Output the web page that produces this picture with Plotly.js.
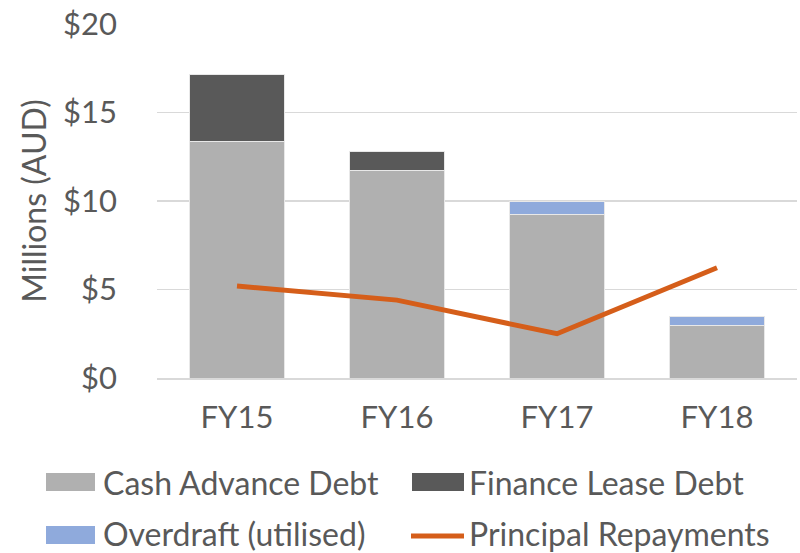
<!DOCTYPE html>
<html><head><meta charset="utf-8">
<script src="https://cdn.plot.ly/plotly-3.0.1.min.js"></script>
<style>html,body{margin:0;padding:0;background:#fff}#chart{width:800px;height:553px}</style>
</head><body><div id="chart"></div>
<script>
const categories = ["FY15", "FY16", "FY17", "FY18"];
const seriesNames = ["Cash Advance Debt", "Finance Lease Debt", "Overdraft (utilised)", "Principal Repayments"];
const cashAdvance = [13.37, 11.73, 9.25, 2.98];
const financeLease = [3.77, 1.04, 0, 0];
const overdraft = [0, 0, 0.75, 0.52];
const principal = [5.2, 4.4, 2.5, 6.23];
const yTickVals = [0, 5, 10, 15, 20];
const yTickText = ["$0", "$5", "$10", "$15", "$20"];

const colors = ["#B0B0B0", "#595959", "#8FAADC", "#D55E1A"];
const font = "Lato, 'Open Sans', sans-serif";
const txt = "#595959";
const FS = 31;
const LFS = 32;

const traces = [
  {type: "bar", name: seriesNames[0], x: categories, y: cashAdvance,
   marker: {color: colors[0], line: {color: "#e8e8e8", width: 1}}},
  {type: "bar", name: seriesNames[1], x: categories, y: financeLease,
   marker: {color: colors[1], line: {color: "#e8e8e8", width: 1}}},
  {type: "bar", name: seriesNames[2], x: categories, y: overdraft,
   marker: {color: colors[2], line: {color: "#e8e8e8", width: 1}}},
  {type: "scatter", mode: "lines", name: seriesNames[3], x: categories, y: principal,
   line: {color: colors[3], width: 5}}
];

// Plot area in pixels: x 157..797, y 24..378
const L = 157, T = 24, PW = 640, PH = 354;
const px = v => (v - L) / PW;
const py = v => (T + PH - v) / PH;

// custom legend (2 columns x 2 rows)
const legendSlots = [
  {sx0: 46, sx1: 95, cy: 482, ty: 482, tx: 102},
  {sx0: 412, sx1: 464, cy: 482, ty: 482, tx: 468},
  {sx0: 46, sx1: 95, cy: 535, ty: 533, tx: 102},
  {sx0: 409, sx1: 466, cy: 536, ty: 533, tx: 468}
];
const shapes = [];
const annotations = [];
legendSlots.forEach((s, i) => {
  if (i === 3) {
    shapes.push({type: "line", xref: "paper", yref: "paper", x0: px(s.sx0 + 2), x1: px(s.sx1 - 2),
      y0: py(s.cy), y1: py(s.cy), line: {color: colors[i], width: 5}});
  } else {
    shapes.push({type: "rect", xref: "paper", yref: "paper", x0: px(s.sx0), x1: px(s.sx1),
      y0: py(s.cy - 9), y1: py(s.cy + 9), fillcolor: colors[i], line: {width: 0}});
  }
  annotations.push({xref: "paper", yref: "paper", x: px(s.tx), y: py(s.ty), xanchor: "left", yanchor: "middle",
    text: seriesNames[i], showarrow: false, borderpad: 0, font: {family: font, size: LFS, color: txt}});
});

const layout = {
  width: 800, height: 553,
  margin: {l: L, r: 800 - L - PW, t: T, b: 553 - T - PH},
  paper_bgcolor: "#fff", plot_bgcolor: "#fff",
  barmode: "stack", bargap: 0.41,
  showlegend: false,
  font: {family: font, color: txt},
  xaxis: {type: "category", tickfont: {family: font, size: FS, color: txt}, showgrid: false,
    showline: true, linecolor: "#D9D9D9", linewidth: 1.5, ticks: "", ticklabelstandoff: 11, fixedrange: true},
  yaxis: {range: [0, 20], tickvals: yTickVals, ticktext: yTickText, showgrid: true, gridcolor: "#D9D9D9", gridwidth: 1.5,
    zeroline: false, showline: false, ticks: "", tickfont: {family: font, size: FS, color: txt},
    ticklabelstandoff: 39,
    title: {text: "Millions (AUD)", font: {family: font, size: LFS, color: txt}, standoff: 6}},
  shapes: shapes,
  annotations: annotations
};
Plotly.newPlot("chart", traces, layout, {displayModeBar: false, staticPlot: true});
</script></body></html>
